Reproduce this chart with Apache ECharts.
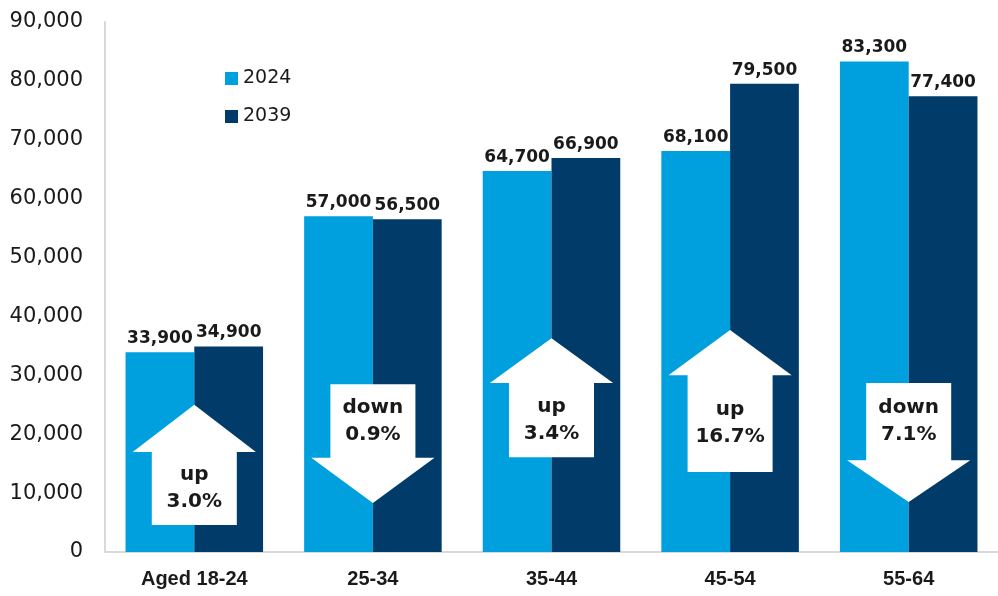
<!DOCTYPE html>
<html>
<head>
<meta charset="utf-8">
<script src="https://cdn.jsdelivr.net/npm/echarts@6/dist/echarts.min.js"></script>
<style>
  html, body { margin: 0; padding: 0; background: #fff; }
  #chart { width: 998px; height: 596px; }
</style>
</head>
<body>
<div id="chart"></div>
<script>
// categories and series
const categories = ['Aged 18-24', '25-34', '35-44', '45-54', '55-64'];
const values2024 = [33900, 57000, 64700, 68100, 83300];
const values2039 = [34900, 56500, 66900, 79500, 77400];

// change arrows (in axis values): tip, shoulder (head base), tail end
const arrowText = ['up\n3.0%', 'down\n0.9%', 'up\n3.4%', 'up\n16.7%', 'down\n7.1%'];
const arrowTip = [25000, 8300, 36300, 37700, 8500];
const arrowShoulder = [17000, 16000, 28700, 30000, 15600];
const arrowTail = [4600, 28500, 16100, 13600, 28700];

const yTicks = { min: 0, max: 90000, interval: 10000 };

const light = '#00A0DE';
const dark = '#003B6A';
const textColor = '#1a1a1a';

const chart = echarts.init(document.getElementById('chart'));

const labelStyle = {
  show: true,
  position: 'top',
  distance: 5,
  color: textColor,
  fontFamily: 'DejaVu Sans',
  fontWeight: 'bold',
  fontSize: 17,
  formatter: p => p.value.toLocaleString('en-US')
};

// white block arrow drawn on top of the bars
function renderArrow(params, api) {
  const idx = api.value(0);
  const tip = api.coord([idx, api.value(1)]);
  const shoulder = api.coord([idx, api.value(2)]);
  const tail = api.coord([idx, api.value(3)]);
  const band = api.size([1, 0])[0];
  const cx = tip[0];
  const bodyW = band * 0.476 / 2;
  const headW = band * 0.69 / 2;
  const points = [
    [cx, tip[1]],
    [cx + headW, shoulder[1]],
    [cx + bodyW, shoulder[1]],
    [cx + bodyW, tail[1]],
    [cx - bodyW, tail[1]],
    [cx - bodyW, shoulder[1]],
    [cx - headW, shoulder[1]]
  ];
  return {
    type: 'group',
    children: [
      { type: 'polygon', shape: { points }, style: { fill: '#fff' } },
      {
        type: 'text',
        x: cx,
        y: (shoulder[1] + tail[1]) / 2,
        style: {
          text: arrowText[params.dataIndex],
          fill: textColor,
          font: 'bold 20px "DejaVu Sans"',
          align: 'center',
          verticalAlign: 'middle',
          lineHeight: 27
        }
      }
    ]
  };
}

const option = {
  animation: false,
  color: [light, dark],
  legend: {
    data: ['2024', '2039'],
    orient: 'vertical',
    left: 220,
    top: 64,
    itemWidth: 13,
    itemHeight: 13,
    itemGap: 19,
    icon: 'rect',
    textStyle: { color: textColor, fontFamily: 'DejaVu Sans', fontSize: 19 }
  },
  grid: { left: 105, right: -10, top: 22, bottom: 44, containLabel: false },
  xAxis: {
    type: 'category',
    data: categories,
    axisTick: { show: false },
    axisLine: { lineStyle: { color: '#d9d9d9', width: 2 } },
    axisLabel: {
      color: textColor,
      fontFamily: '"Liberation Sans", sans-serif',
      fontWeight: 'bold',
      fontSize: 20,
      margin: 17
    }
  },
  yAxis: {
    type: 'value',
    min: yTicks.min,
    max: yTicks.max,
    interval: yTicks.interval,
    splitLine: { show: false },
    axisTick: { show: false },
    axisLine: { show: true, lineStyle: { color: '#d9d9d9', width: 2 } },
    axisLabel: {
      color: textColor,
      fontFamily: 'DejaVu Sans',
      fontSize: 21,
      margin: 22,
      formatter: v => v.toLocaleString('en-US')
    }
  },
  series: [
    {
      name: '2024',
      type: 'bar',
      data: values2024,
      barGap: '0%',
      barCategoryGap: '23%',
      label: labelStyle
    },
    {
      name: '2039',
      type: 'bar',
      data: values2039,
      label: labelStyle
    },
    {
      type: 'custom',
      renderItem: renderArrow,
      data: categories.map((c, i) => [i, arrowTip[i], arrowShoulder[i], arrowTail[i]]),
      z: 10,
      silent: true
    }
  ]
};

chart.setOption(option);
</script>
</body>
</html>
